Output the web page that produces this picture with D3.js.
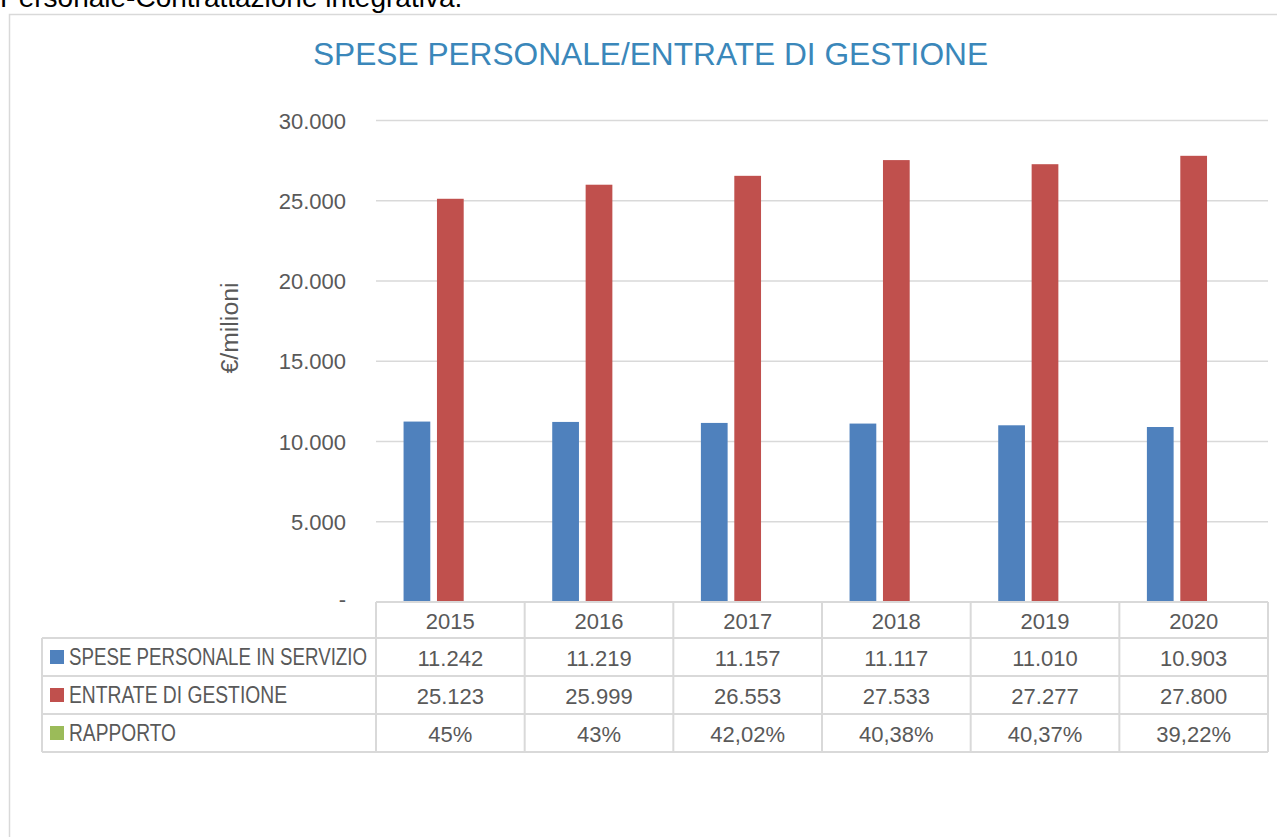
<!DOCTYPE html>
<html>
<head>
<meta charset="utf-8">
<script src="https://cdnjs.cloudflare.com/ajax/libs/d3/7.8.5/d3.min.js"></script>
<style>
    body { margin: 0; background: #fff; overflow: hidden; }
    svg text { font-family: "Liberation Sans", Arial, sans-serif; fill: #595959; }
</style>
</head>
<body>
<script>
    var years = ["2015", "2016", "2017", "2018", "2019", "2020"];
    var spesePersonale = [11242, 11219, 11157, 11117, 11010, 10903];
    var entrateGestione = [25123, 25999, 26553, 27533, 27277, 27800];
    var rapporto = [0.45, 0.43, 0.4202, 0.4038, 0.4037, 0.3922];
    var rapportoLabels = ["45%", "43%", "42,02%", "40,38%", "40,37%", "39,22%"];
    var yTicks = [0, 5000, 10000, 15000, 20000, 25000, 30000];

    var seriesNames = ["SPESE PERSONALE IN SERVIZIO", "ENTRATE DI GESTIONE", "RAPPORTO"];
    var nameWidths = [298, 218, 107];
    var colors = ["#4F81BD", "#C0504D", "#9BBB59"];
    var seriesValues = [spesePersonale, entrateGestione, rapporto];
    var fmt = d3.formatLocale({ decimal: ",", thousands: ".", grouping: [3], currency: ["€", ""] }).format(",.0f");
    var tableLabels = [spesePersonale.map(fmt), entrateGestione.map(fmt), rapportoLabels];

    var W = 1277, H = 837;
    var plotLeft = 376, plotRight = 1268, plotTop = 120.5, plotBase = 602;
    var svg = d3.select("body").append("svg").attr("width", W).attr("height", H);

    // document text above the chart
    svg.append("text").attr("x", 0).attr("y", 7)
        .style("font-size", "28px").style("fill", "#000")
        .text("Personale-Contrattazione integrativa.");

    // chart frame
    svg.append("rect").attr("x", 9.5).attr("y", 14.5).attr("width", 1290).attr("height", 900)
        .attr("fill", "#fff").attr("stroke", "#d9d9d9").attr("stroke-width", 1.5);

    svg.append("text").attr("x", 313).attr("y", 65)
        .attr("textLength", 675).attr("lengthAdjust", "spacingAndGlyphs")
        .style("font-size", "31px").style("fill", "#3A87BA").text("SPESE PERSONALE/ENTRATE DI GESTIONE");

    var x = d3.scaleBand().domain(years).range([plotLeft, plotRight]);
    var x1 = d3.scaleBand().domain(d3.range(3)).range([0, x.bandwidth()]).paddingInner(0.2).paddingOuter(0.825);
    var y = d3.scaleLinear().domain([0, 30000]).range([plotBase, plotTop]);

    // gridlines
    svg.append("g").selectAll("line").data(yTicks.filter(function(d) { return d > 0; })).enter().append("line")
        .attr("x1", plotLeft).attr("x2", plotRight)
        .attr("y1", function(d) { return y(d); }).attr("y2", function(d) { return y(d); })
        .attr("stroke", "#d9d9d9").attr("stroke-width", 1.5);

    svg.append("g").selectAll("text").data(yTicks).enter().append("text")
        .attr("x", 346).attr("y", function(d) { return y(d) + 8 - (d === 0 ? 3 : 0); })
        .attr("text-anchor", "end").style("font-size", "22px")
        .text(function(d) { return d === 0 ? "-" : fmt(d); });

    svg.append("text").attr("transform", "translate(238,328) rotate(-90)").attr("text-anchor", "middle")
        .attr("textLength", 91).attr("lengthAdjust", "spacingAndGlyphs")
        .style("font-size", "23px").text("€/milioni");

    // bars
    var groups = svg.append("g").selectAll("g").data(years).enter().append("g")
        .attr("transform", function(d) { return "translate(" + x(d) + ",0)"; });
    groups.selectAll("rect").data(function(d, i) {
        return seriesValues.map(function(s, k) { return { k: k, v: s[i] }; });
    }).enter().append("rect")
        .attr("x", function(d) { return x1(d.k); })
        .attr("width", x1.bandwidth())
        .attr("y", function(d) { return y(d.v); })
        .attr("height", function(d) { return plotBase - y(d.v); })
        .attr("fill", function(d) { return colors[d.k]; });

    // data table
    var rowH = 38, headH = 36, tableLeft = 42;
    var tg = svg.append("g").attr("fill", "none").attr("stroke", "#d9d9d9").attr("stroke-width", 2);
    var tableBottom = plotBase + headH + rowH * 3;
    tg.append("line").attr("x1", plotLeft).attr("x2", plotRight).attr("y1", plotBase).attr("y2", plotBase);
    years.forEach(function(d) {
        tg.append("line").attr("x1", x(d)).attr("x2", x(d)).attr("y1", plotBase).attr("y2", tableBottom);
    });
    tg.append("line").attr("x1", plotRight).attr("x2", plotRight).attr("y1", plotBase).attr("y2", tableBottom);
    tg.append("line").attr("x1", tableLeft).attr("x2", tableLeft).attr("y1", plotBase + headH).attr("y2", tableBottom);
    for (var r = 0; r <= 3; r++) {
        tg.append("line").attr("x1", tableLeft).attr("x2", plotRight)
            .attr("y1", plotBase + headH + r * rowH).attr("y2", plotBase + headH + r * rowH);
    }

    svg.append("g").selectAll("text").data(years).enter().append("text")
        .attr("x", function(d) { return x(d) + x.bandwidth() / 2; }).attr("y", plotBase + 27)
        .attr("text-anchor", "middle").style("font-size", "22px").text(function(d) { return d; });

    seriesNames.forEach(function(name, k) {
        var cy = plotBase + headH + k * rowH;
        svg.append("rect").attr("x", 50).attr("y", cy + 12).attr("width", 14).attr("height", 14).attr("fill", colors[k]);
        svg.append("text").attr("x", 69).attr("y", cy + 27)
            .attr("textLength", nameWidths[k]).attr("lengthAdjust", "spacingAndGlyphs")
            .style("font-size", "23px").text(name);
        svg.append("g").selectAll("text").data(tableLabels[k]).enter().append("text")
            .attr("x", function(d, i) { return x(years[i]) + x.bandwidth() / 2; }).attr("y", cy + 28)
            .attr("text-anchor", "middle").style("font-size", "22px").text(function(d) { return d; });
    });
</script>
</body>
</html>
